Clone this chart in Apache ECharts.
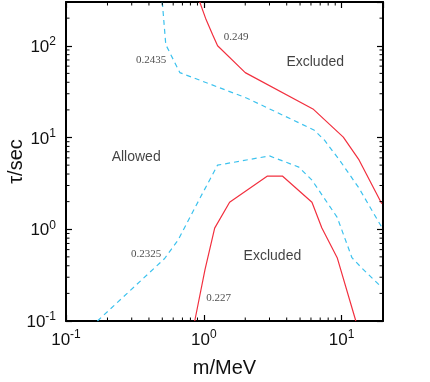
<!DOCTYPE html>
<html>
<head>
<meta charset="utf-8">
<script src="https://cdn.jsdelivr.net/npm/echarts@6/dist/echarts.min.js"></script>
<style>
  html, body { margin: 0; padding: 0; background: #fff; }
  #chart { width: 430px; height: 382px; }
</style>
</head>
<body>
<div id="chart"></div>
<script>
// contour lines, points are [m/MeV, tau/sec]
var red249 = [[0.935, 300], [1.03, 200], [1.16, 132], [1.26, 100], [2.0, 51], [6.2, 20.5], [10.3, 10.1], [13.4, 5.7], [19.6, 1.9]];
var red227 = [[0.86, 0.1], [1.02, 0.36], [1.2, 1.03], [1.54, 1.97], [2.9, 3.8], [3.72, 3.8], [6.1, 1.97], [7.2, 1.03], [9.3, 0.49], [12.7, 0.1]];
var cyan2435 = [[0.5, 300], [0.53, 103], [0.67, 51], [2.04, 27], [6.3, 12.1], [7.5, 9.4], [9.9, 5.4], [13.4, 2.8], [19.6, 1.05]];
var cyan2325 = [[0.169, 0.1], [0.52, 0.48], [0.65, 0.76], [0.98, 2.47], [1.26, 5.0], [3.0, 6.3], [4.9, 4.76], [6.1, 3.43], [9.3, 1.35], [11.9, 0.49], [14.1, 0.375], [19.6, 0.232]];

// text on the plot, [m, tau, text]
var contourLabels = [[1.72, 125, '0.249'], [0.414, 70, '0.2435'], [0.381, 0.53, '0.2325'], [1.28, 0.176, '0.227']];
var regionLabels = [[6.44, 67, 'Excluded'], [3.15, 0.51, 'Excluded'], [0.323, 6.1, 'Allowed']];

// axis ranges and minor ticks
var xRange = [0.1, 20];
var yRange = [0.1, 300];
var xMinor = [0.2, 0.3, 0.4, 0.5, 0.6, 0.7, 0.8, 0.9, 2, 3, 4, 5, 6, 7, 8, 9];
var yMinor = [0.2, 0.3, 0.4, 0.5, 0.6, 0.7, 0.8, 0.9, 2, 3, 4, 5, 6, 7, 8, 9, 20, 30, 40, 50, 60, 70, 80, 90, 200];

var lg = Math.log10;
function toLog(arr) { return arr.map(function (p) { return [lg(p[0]), lg(p[1])]; }); }

var SANS = 'Liberation Sans, Arial, sans-serif';
var SERIF = 'Liberation Serif, Times New Roman, serif';

function powLabel(v) {
  if (Math.abs(v - Math.round(v)) > 1e-6) return '';
  return '{b|10}{s|' + Math.round(v) + '}';
}
var powRich = {
  b: { fontSize: 17, fontFamily: SANS, color: '#111', verticalAlign: 'bottom', lineHeight: 20 },
  s: { fontSize: 12, fontFamily: SANS, color: '#111', verticalAlign: 'top', lineHeight: 12 }
};

function axisBase(extra) {
  var a = {
    type: 'value',
    axisLine: { show: true, onZero: false, lineStyle: { color: '#000', width: 2 } },
    axisTick: { show: true, inside: true, length: 6, lineStyle: { color: '#000', width: 1.2 } },
    splitLine: { show: false }
  };
  for (var k in extra) a[k] = extra[k];
  return a;
}

var xMinLog = lg(xRange[0]), xMaxLog = lg(xRange[1]);
var yMinLog = lg(yRange[0]), yMaxLog = lg(yRange[1]);

function lineSeries(name, data, color, dashed) {
  return {
    name: name, type: 'line', data: toLog(data), symbol: 'none', silent: true,
    lineStyle: { color: color, width: 1.2, type: dashed ? [5, 4] : 'solid' },
    z: 3
  };
}

function minorTicks(data, isX) {
  return {
    type: 'custom', silent: true, z: 4,
    data: data.map(function (v) { return isX ? [lg(v), yMinLog] : [xMinLog, lg(v)]; }),
    renderItem: function (params, api) {
      var cs = params.coordSys;
      var p = api.coord([api.value(0), api.value(1)]);
      var len = 3.5, st = { stroke: '#000', lineWidth: 1 };
      if (isX) {
        var x = p[0], b = cs.y + cs.height, t = cs.y;
        return { type: 'group', children: [
          { type: 'line', shape: { x1: x, y1: b, x2: x, y2: b - len }, style: st },
          { type: 'line', shape: { x1: x, y1: t, x2: x, y2: t + len }, style: st }
        ] };
      }
      var y = p[1], l = cs.x, r = cs.x + cs.width;
      return { type: 'group', children: [
        { type: 'line', shape: { x1: l, y1: y, x2: l + len, y2: y }, style: st },
        { type: 'line', shape: { x1: r, y1: y, x2: r - len, y2: y }, style: st }
      ] };
    }
  };
}

function textSeries(data, font, size, color) {
  return {
    type: 'scatter', silent: true, symbolSize: 0, z: 5,
    data: data.map(function (d) { return { value: [lg(d[0]), lg(d[1])], name: d[2] }; }),
    label: {
      show: true, position: 'inside', formatter: '{b}',
      fontFamily: font, fontSize: size, color: color
    }
  };
}

var chart = echarts.init(document.getElementById('chart'));
chart.setOption({
  animation: false,
  backgroundColor: '#fff',
  grid: { left: 66, right: 47, top: 2, bottom: 61, outerBoundsMode: 'none', containLabel: false },
  xAxis: [
    axisBase({
      position: 'bottom', min: xMinLog, max: xMaxLog, interval: 1,
      name: 'm/MeV', nameLocation: 'middle', nameGap: 37, nameMoveOverlap: false,
      nameTextStyle: { fontFamily: SANS, fontSize: 20, color: '#111' },
      axisLabel: { formatter: powLabel, rich: powRich, margin: 8, showMaxLabel: false }
    }),
    axisBase({
      position: 'top', min: xMinLog, max: xMaxLog, interval: 1,
      axisLabel: { show: false }
    })
  ],
  yAxis: [
    axisBase({
      position: 'left', min: yMinLog, max: yMaxLog, interval: 1,
      name: 'τ/sec', nameLocation: 'middle', nameGap: 40, nameMoveOverlap: false,
      nameTextStyle: { fontFamily: SANS, fontSize: 20, color: '#111' },
      axisLabel: { formatter: powLabel, rich: powRich, margin: 10, showMaxLabel: false }
    }),
    axisBase({
      position: 'right', min: yMinLog, max: yMaxLog, interval: 1,
      axisLabel: { show: false }
    })
  ],
  series: [
    lineSeries('0.249', red249, '#f2303f', false),
    lineSeries('0.227', red227, '#f2303f', false),
    lineSeries('0.2435', cyan2435, '#3cc2ee', true),
    lineSeries('0.2325', cyan2325, '#3cc2ee', true),
    minorTicks(xMinor, true),
    minorTicks(yMinor, false),
    textSeries(contourLabels, SERIF, 11, '#222'),
    textSeries(regionLabels, SANS, 14, '#111')
  ]
});
</script>
</body>
</html>
